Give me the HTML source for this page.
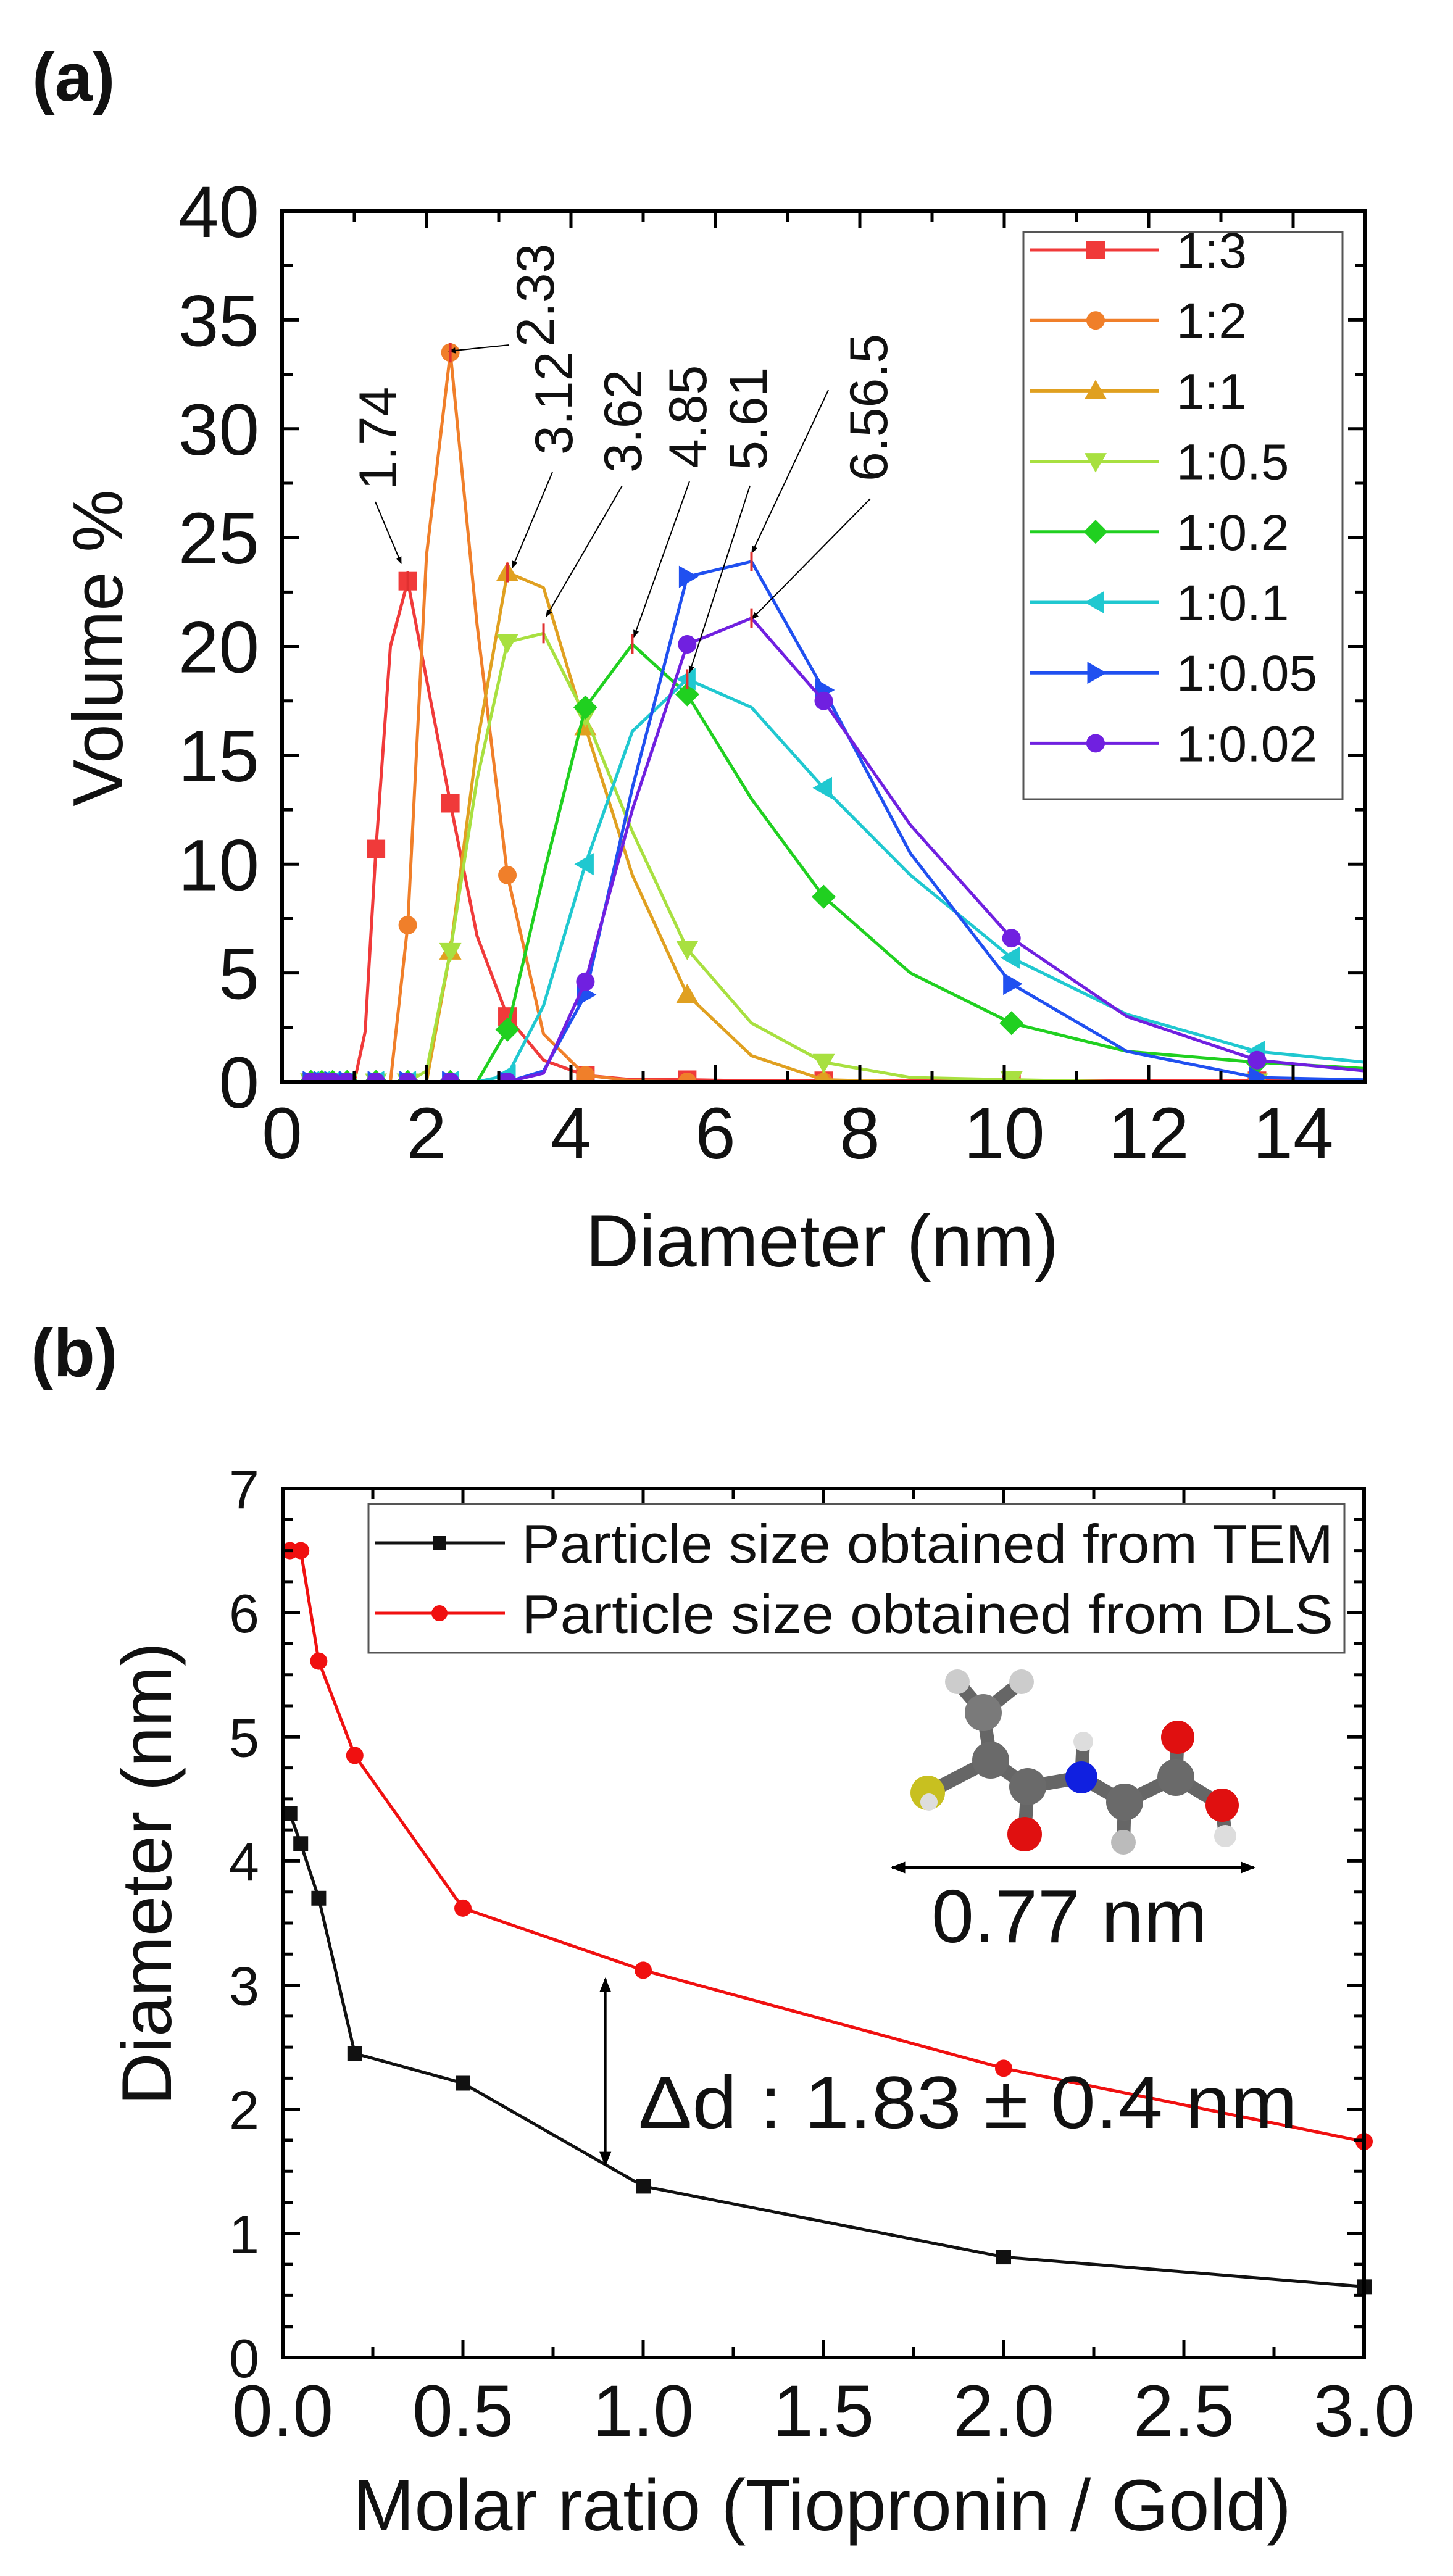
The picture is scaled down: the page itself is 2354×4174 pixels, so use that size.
<!DOCTYPE html>
<html><head><meta charset="utf-8"><style>
html,body{margin:0;padding:0;background:#fff}
svg{display:block}
text{font-family:"Liberation Sans",sans-serif;fill:#111}
</style></head><body>
<svg id="fig" width="2354" height="4174" viewBox="0 0 2354 4174" xmlns="http://www.w3.org/2000/svg">
<rect x="0" y="0" width="2354" height="4174" fill="#fff"/>
<text x="52" y="163" font-size="110" font-weight="bold">(a)</text>
<text x="50" y="2230" font-size="110" font-weight="bold">(b)</text>
<g id="ga"></g>
<g id="gb"></g>
</svg>
<script>
// ---------- Chart (a) data ----------
const diamX = [0.4,0.55,0.7,0.9,1.0,1.15,1.3,1.5,1.74,2.0,2.33,2.7,3.12,3.62,4.2,4.85,5.61,6.5,7.5,8.7,10.1,11.7,13.5,15.6];
const markerIdx = [0,1,2,3,6,8,10,12,14,16,18,20,22];
const seriesNames = ["1:3","1:2","1:1","1:0.5","1:0.2","1:0.1","1:0.05","1:0.02"];
const vol13   = [0,0,0,0,0,2.3,10.7,20,23,18.5,12.8,6.7,3.0,1.0,0.3,0.1,0.1,0.05,0.05,0.05,0.05,0.05,0.05,0.05];
const vol12   = [0,0,0,0,0,0,0,0,7.2,24.2,33.5,21,9.5,2.2,0.3,0.05,0,0,0,0,0,0,0,0];
const vol11   = [0,0,0,0,0,0,0,0,0,0,6,15.5,23.4,22.7,16.3,9.5,4,1.2,0.1,0,0,0,0,0];
const vol105  = [0,0,0,0,0,0,0,0,0,0.5,6,13.9,20.2,20.6,16.8,11.5,6.1,2.7,0.9,0.2,0.1,0,0,0];
const vol102  = [0,0,0,0,0,0,0,0,0,0,0,0,2.4,9.5,17.2,20.1,17.8,13,8.5,5,2.7,1.4,0.9,0.5];
const vol101  = [0,0,0,0,0,0,0,0,0,0,0,0,0.3,3.5,10,16.1,18.5,17.2,13.5,9.5,5.7,3.1,1.4,0.7];
const vol1005 = [0,0,0,0,0,0,0,0,0,0,0,0,0,0.5,4,13.5,23.2,23.9,18,10.5,4.5,1.4,0.2,0.05];
const vol1002 = [0,0,0,0,0,0,0,0,0,0,0,0,0,0.4,4.6,12.5,20.1,21.3,17.5,11.8,6.6,3,1,0.3];
const xTicksA = [0,2,4,6,8,10,12,14];
const yTicksA = [0,5,10,15,20,25,30,35,40];
const peakLabels = ["1.74","2.33","3.12","3.62","4.85","5.61","6.56.5"];

// ---------- Chart (b) data ----------
const ratioX = [0.02,0.05,0.1,0.2,0.5,1,2,3];
const temD = [4.38,4.14,3.7,2.45,2.21,1.38,0.81,0.57];
const dlsD = [6.5,6.5,5.61,4.85,3.62,3.12,2.33,1.74];
const xTicksB = ["0.0","0.5","1.0","1.5","2.0","2.5","3.0"];
const yTicksB = [0,1,2,3,4,5,6,7];

const NS="http://www.w3.org/2000/svg";
function mk(parent,tag,attrs){const e=document.createElementNS(NS,tag);for(const k in attrs)e.setAttribute(k,attrs[k]);parent.appendChild(e);return e;}

// ===== Chart A =====
const ga=document.getElementById('ga');
const A={l:457,r:2212,t:342,b:1753};
const ax=v=>A.l+(v/15)*(A.r-A.l);
const ay=v=>A.b-(v/40)*(A.b-A.t);
const colors=["#f03a3a","#f07f2a","#e0a020","#a8e040","#20d020","#20c8d0","#2050f0","#7020e0"];
const shapes=["square","circle","tri-up","tri-down","diamond","tri-left","tri-right","circle"];
const volSeries=[vol13,vol12,vol11,vol105,vol102,vol101,vol1005,vol1002];

const clipA=mk(ga,'clipPath',{id:'clipA'});
mk(clipA,'rect',{x:A.l,y:A.t,width:A.r-A.l,height:A.b-A.t});

function marker(parent,shape,cx,cy,s,color){
  let e;
  if(shape==="square") e=mk(parent,'rect',{x:cx-s/2,y:cy-s/2,width:s,height:s,fill:color});
  else if(shape==="circle") e=mk(parent,'circle',{cx:cx,cy:cy,r:s/2,fill:color});
  else if(shape==="tri-up") e=mk(parent,'polygon',{points:`${cx},${cy-s*0.6} ${cx-s*0.6},${cy+s*0.45} ${cx+s*0.6},${cy+s*0.45}`,fill:color});
  else if(shape==="tri-down") e=mk(parent,'polygon',{points:`${cx},${cy+s*0.6} ${cx-s*0.6},${cy-s*0.45} ${cx+s*0.6},${cy-s*0.45}`,fill:color});
  else if(shape==="diamond") e=mk(parent,'polygon',{points:`${cx},${cy-s*0.65} ${cx+s*0.65},${cy} ${cx},${cy+s*0.65} ${cx-s*0.65},${cy}`,fill:color});
  else if(shape==="tri-left") e=mk(parent,'polygon',{points:`${cx-s*0.6},${cy} ${cx+s*0.45},${cy-s*0.6} ${cx+s*0.45},${cy+s*0.6}`,fill:color});
  else e=mk(parent,'polygon',{points:`${cx+s*0.6},${cy} ${cx-s*0.45},${cy-s*0.6} ${cx-s*0.45},${cy+s*0.6}`,fill:color});
  return e;
}

const plotA=mk(ga,'g',{'clip-path':'url(#clipA)'});


volSeries.forEach((vals,si)=>{
  const g=mk(plotA,'g',{});
  
  
  const pts=vals.map((v,i)=>ax(diamX[i])+','+ay(v)).join(' ');
  mk(g,'polyline',{points:pts,fill:'none',stroke:colors[si],'stroke-width':5,'stroke-linejoin':'round'});
  markerIdx.forEach(i=>{
    const m=marker(g,shapes[si],ax(diamX[i]),ay(vals[i]),30,colors[si]);
    
    
  });
});

const frameA=mk(ga,'rect',{x:A.l,y:A.t,width:A.r-A.l,height:A.b-A.t,fill:'none',stroke:'#000','stroke-width':6});


for(let v=0;v<=15;v+=1){
  const L=(v%2===0)?28:17, x=ax(v);
  mk(ga,'line',{x1:x,y1:A.b,x2:x,y2:A.b-L,stroke:'#000','stroke-width':5});
  mk(ga,'line',{x1:x,y1:A.t,x2:x,y2:A.t+L,stroke:'#000','stroke-width':5});
}
for(let v=0;v<=40;v+=2.5){
  const L=(v%5===0)?28:17, y=ay(v);
  mk(ga,'line',{x1:A.l,y1:y,x2:A.l+L,y2:y,stroke:'#000','stroke-width':5});
  mk(ga,'line',{x1:A.r,y1:y,x2:A.r-L,y2:y,stroke:'#000','stroke-width':5});
}
xTicksA.forEach(v=>{
  const t=mk(ga,'text',{x:ax(v),y:1877,'font-size':118,'text-anchor':'middle'});
  
  
  t.textContent=v;
});
yTicksA.forEach(v=>{
  const t=mk(ga,'text',{x:420,y:ay(v)+42,'font-size':118,'text-anchor':'end'});
  
  
  t.textContent=v;
});
const xtA=mk(ga,'text',{x:1332,y:2052,'font-size':120,'text-anchor':'middle'});


xtA.textContent='Diameter (nm)';
const ytA=mk(ga,'text',{x:0,y:0,'font-size':114,'text-anchor':'middle',transform:'translate(198,1050) rotate(-90)'});


ytA.textContent='Volume %';

const legA=mk(ga,'g',{});


mk(legA,'rect',{x:1658,y:376,width:517,height:919,fill:'#fff',stroke:'#555','stroke-width':3});
seriesNames.forEach((n,i)=>{
  const y=405+i*114.2;
  const g=mk(legA,'g',{});
  
  
  mk(g,'line',{x1:1668,y1:y,x2:1878,y2:y,stroke:colors[i],'stroke-width':5});
  marker(g,shapes[i],1775,y,30,colors[i]);
  const t=mk(g,'text',{x:1906,y:y+29,'font-size':82});
  t.textContent=n;
});

const annA=mk(ga,'g',{});


const defs=mk(ga,'defs',{});
const mkr=mk(defs,'marker',{id:'ah',viewBox:'0 0 10 10',refX:'9',refY:'5',markerWidth:'6',markerHeight:'6',orient:'auto-start-reverse'});
mk(mkr,'path',{d:'M0,1 L10,5 L0,9 z',fill:'#000'});
const annPos=[[642,794,608,813,650,913],[897,562,825,559,727,569],[927,737,895,765,830,920],[1039,766,1008,787,885,999],[1144,759,1117,780,1027,1032],[1242,762,1215,787,1117,1090],[1437,780,1342,632,1218,896]];
peakLabels.forEach((lab,i)=>{
  const p=annPos[i];
  const t=mk(annA,'text',{x:0,y:0,'font-size':86,transform:`translate(${p[0]},${p[1]}) rotate(-90)`});
  
  
  t.textContent=lab;
  mk(annA,'line',{x1:p[2],y1:p[3],x2:p[4],y2:p[5],stroke:'#000','stroke-width':2,'marker-end':'url(#ah)'});
});
mk(annA,'line',{x1:1410,y1:808,x2:1218,y2:1003,stroke:'#000','stroke-width':2,'marker-end':'url(#ah)'});
[[1.74,23],[2.33,33.5],[3.12,23.4],[3.62,20.6],[4.85,20.1],[5.61,18.5],[6.5,23.9],[6.5,21.3]].forEach(p=>{
  mk(annA,'line',{x1:ax(p[0]),y1:ay(p[1])-16,x2:ax(p[0]),y2:ay(p[1])+16,stroke:'#e03030','stroke-width':4});
});

// ===== Chart B =====
const gb=document.getElementById('gb');
const B={l:458,r:2210,t:2412,b:3820};
const bx=v=>B.l+(v/3)*(B.r-B.l);
const by=v=>B.b-(v/7)*(B.b-B.t);
const clipB=mk(gb,'clipPath',{id:'clipB'});
mk(clipB,'rect',{x:B.l-20,y:B.t,width:B.r-B.l+40,height:B.b-B.t});

const mol=mk(gb,'g',{});


const atoms=[[1551,2725,20,'#ccc'],[1655,2725,20,'#ccc'],[1593,2775,30,'#7a7a7a'],[1605,2852,30,'#6a6a6a'],[1503,2905,28,'#c8c020'],[1505,2920,14,'#ddd'],[1665,2895,30,'#6a6a6a'],[1660,2972,28,'#e01010'],[1752,2880,26,'#1020e0'],[1755,2822,16,'#ddd'],[1822,2920,30,'#6a6a6a'],[1820,2985,20,'#bbb'],[1905,2880,30,'#6a6a6a'],[1908,2815,27,'#e01010'],[1980,2925,27,'#e01010'],[1985,2975,18,'#ddd']];
const bonds=[[0,2],[1,2],[2,3],[3,4],[4,5],[3,6],[6,7],[6,8],[8,9],[8,10],[10,11],[10,12],[12,13],[12,14],[14,15]];
bonds.forEach(b=>{const a=atoms[b[0]],c=atoms[b[1]];mk(mol,'line',{x1:a[0],y1:a[1],x2:c[0],y2:c[1],stroke:'#666','stroke-width':22});});
atoms.forEach(a=>mk(mol,'circle',{cx:a[0],cy:a[1],r:a[2],fill:a[3]}));
const molArrow=mk(gb,'line',{x1:1445,y1:3026,x2:2032,y2:3026,stroke:'#000','stroke-width':4,'marker-end':'url(#ah)','marker-start':'url(#ah)'});


const molT=mk(gb,'text',{x:1509,y:3147,'font-size':122,textLength:447,lengthAdjust:'spacingAndGlyphs'});


molT.textContent='0.77 nm';

const plotB=mk(gb,'g',{'clip-path':'url(#clipB)'});


[[temD,'#111','square','series-tem'],[dlsD,'#f01010','circle','series-dls']].forEach(s=>{
  const g=mk(plotB,'g',{});
  
  
  mk(g,'polyline',{points:s[0].map((v,i)=>bx(ratioX[i])+','+by(v)).join(' '),fill:'none',stroke:s[1],'stroke-width':5});
  s[0].forEach((v,i)=>{
    const m=marker(g,s[2],bx(ratioX[i]),by(v),s[2]==='square'?24:28,s[1]);
    
    
  });
});
const frameB=mk(gb,'rect',{x:B.l,y:B.t,width:B.r-B.l,height:B.b-B.t,fill:'none',stroke:'#000','stroke-width':6});


for(let k=0;k<=12;k++){
  const v=k*0.25,L=(k%2===0)?28:17,x=bx(v);
  mk(gb,'line',{x1:x,y1:B.b,x2:x,y2:B.b-L,stroke:'#000','stroke-width':5});
  mk(gb,'line',{x1:x,y1:B.t,x2:x,y2:B.t+L,stroke:'#000','stroke-width':5});
}
for(let k=0;k<=28;k++){
  const v=k*0.25,L=(k%4===0)?28:17,y=by(v);
  mk(gb,'line',{x1:B.l,y1:y,x2:B.l+L,y2:y,stroke:'#000','stroke-width':5});
  mk(gb,'line',{x1:B.r,y1:y,x2:B.r-L,y2:y,stroke:'#000','stroke-width':5});
}
xTicksB.forEach(s=>{
  const t=mk(gb,'text',{x:bx(parseFloat(s)),y:3947,'font-size':118,'text-anchor':'middle'});
  
  
  t.textContent=s;
});
yTicksB.forEach(v=>{
  const t=mk(gb,'text',{x:420,y:by(v)+32,'font-size':88,'text-anchor':'end'});
  
  
  t.textContent=v;
});
const xtB=mk(gb,'text',{x:1332,y:4100,'font-size':118,'text-anchor':'middle',textLength:1520,lengthAdjust:'spacingAndGlyphs'});


xtB.textContent='Molar ratio (Tiopronin / Gold)';
const ytB=mk(gb,'text',{x:0,y:0,'font-size':114,'text-anchor':'middle',transform:'translate(277,3036) rotate(-90)',textLength:750,lengthAdjust:'spacingAndGlyphs'});


ytB.textContent='Diameter (nm)';

const dArr=mk(gb,'line',{x1:bx(0.895),y1:by(3.05),x2:bx(0.895),y2:by(1.55),stroke:'#000','stroke-width':4,'marker-end':'url(#ah)','marker-start':'url(#ah)'});


const dT=mk(gb,'text',{x:1034,y:3448,'font-size':120,textLength:1068,lengthAdjust:'spacingAndGlyphs'});


dT.textContent='Δd : 1.83 ± 0.4 nm';

const legB=mk(gb,'g',{});


mk(legB,'rect',{x:597,y:2437,width:1581,height:241,fill:'#fff',stroke:'#555','stroke-width':3});
[['Particle size obtained from TEM','#111','square',2500],['Particle size obtained from DLS','#f01010','circle',2614]].forEach(e=>{
  const g=mk(legB,'g',{});
  
  
  mk(g,'line',{x1:608,y1:e[3],x2:818,y2:e[3],stroke:e[1],'stroke-width':5});
  marker(g,e[2],712,e[3],e[2]==='square'?22:26,e[1]);
  const t=mk(g,'text',{x:845,y:e[3]+32,'font-size':88,textLength:1315,lengthAdjust:'spacingAndGlyphs'});
  t.textContent=e[0];
});
</script>
</body></html>
